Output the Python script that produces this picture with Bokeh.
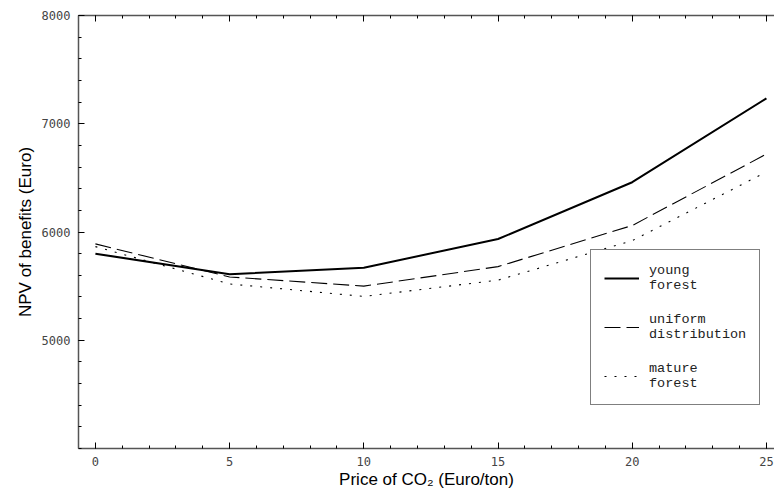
from bokeh.plotting import figure
from bokeh.models import LinearAxis, FixedTicker, Legend, LegendItem, Range1d
from bokeh.embed import file_html
from bokeh.resources import INLINE

# Data
price = [0, 5, 10, 15, 20, 25]
young_forest = [5800, 5610, 5670, 5935, 6460, 7235]
uniform_distribution = [5890, 5585, 5500, 5680, 6060, 6720]
mature_forest = [5865, 5520, 5405, 5555, 5920, 6555]

x_ticks = [0, 5, 10, 15, 20, 25]
x_minor = list(range(0, 26))
y_ticks = [5000, 6000, 7000, 8000]
y_minor = list(range(4000, 8001, 200))

p = figure(frame_width=696, frame_height=433,
           x_range=Range1d(-0.63, 25.3), y_range=Range1d(4000, 8000),
           output_backend="svg", toolbar_location=None,
           min_border_left=78, min_border_right=0, min_border_top=15, min_border_bottom=36)
p.outline_line_color = None
p.xgrid.visible = False
p.ygrid.visible = False

r1 = p.line(price, young_forest, line_color="black", line_width=2)
r2 = p.line(price, uniform_distribution, line_color="black", line_width=1.1, line_dash="16 6")
r3 = p.line(price, mature_forest, line_color="black", line_width=1.1, line_dash="2 8")

tick_font = "DejaVu Sans Mono"

def style_axis(ax):
    ax.axis_line_color = "#555555"
    ax.axis_line_width = 1.5
    ax.major_tick_line_color = "black"
    ax.minor_tick_line_color = "black"
    ax.major_tick_in = 6
    ax.major_tick_out = 0
    ax.minor_tick_in = 3
    ax.minor_tick_out = 0
    ax.major_label_text_font = tick_font
    ax.major_label_text_font_size = "12px"
    ax.major_label_text_color = "#444444"
    ax.axis_label_text_font = "Liberation Sans"
    ax.axis_label_text_font_size = "17px"
    ax.axis_label_text_font_style = "normal"
    ax.axis_label_text_color = "black"

xa = p.xaxis[0]
xa.ticker = FixedTicker(ticks=x_ticks, minor_ticks=x_minor)
style_axis(xa)
xa.major_label_standoff = 8
xa.axis_label = "Price of CO\u2082 (Euro/ton)"
xa.axis_label_standoff = 1

ya = p.yaxis[0]
ya.ticker = FixedTicker(ticks=y_ticks, minor_ticks=y_minor)
style_axis(ya)
ya.major_label_standoff = 8
ya.axis_label = "NPV of benefits (Euro)"
ya.axis_label_standoff = 4

top = LinearAxis(ticker=FixedTicker(ticks=x_ticks, minor_ticks=x_minor))
style_axis(top)
top.major_label_overrides = {t: "" for t in x_ticks}
top.major_label_standoff = 0
p.add_layout(top, "above")

legend = Legend(items=[
    LegendItem(label="young\nforest", renderers=[r1]),
    LegendItem(label="uniform\ndistribution", renderers=[r2]),
    LegendItem(label="mature\nforest", renderers=[r3]),
], location=(512, 43))
legend.label_text_font = "Liberation Mono"
legend.label_text_font_size = "13.5px"
legend.label_text_line_height = 1.35
legend.label_text_color = "#222222"
legend.glyph_width = 35
legend.label_standoff = 10
legend.padding = 13
legend.spacing = 19
legend.border_line_color = "black"
legend.border_line_width = 1
legend.background_fill_alpha = 1
p.add_layout(legend, "center")

open("out.html", "w").write(file_html(p, INLINE))
